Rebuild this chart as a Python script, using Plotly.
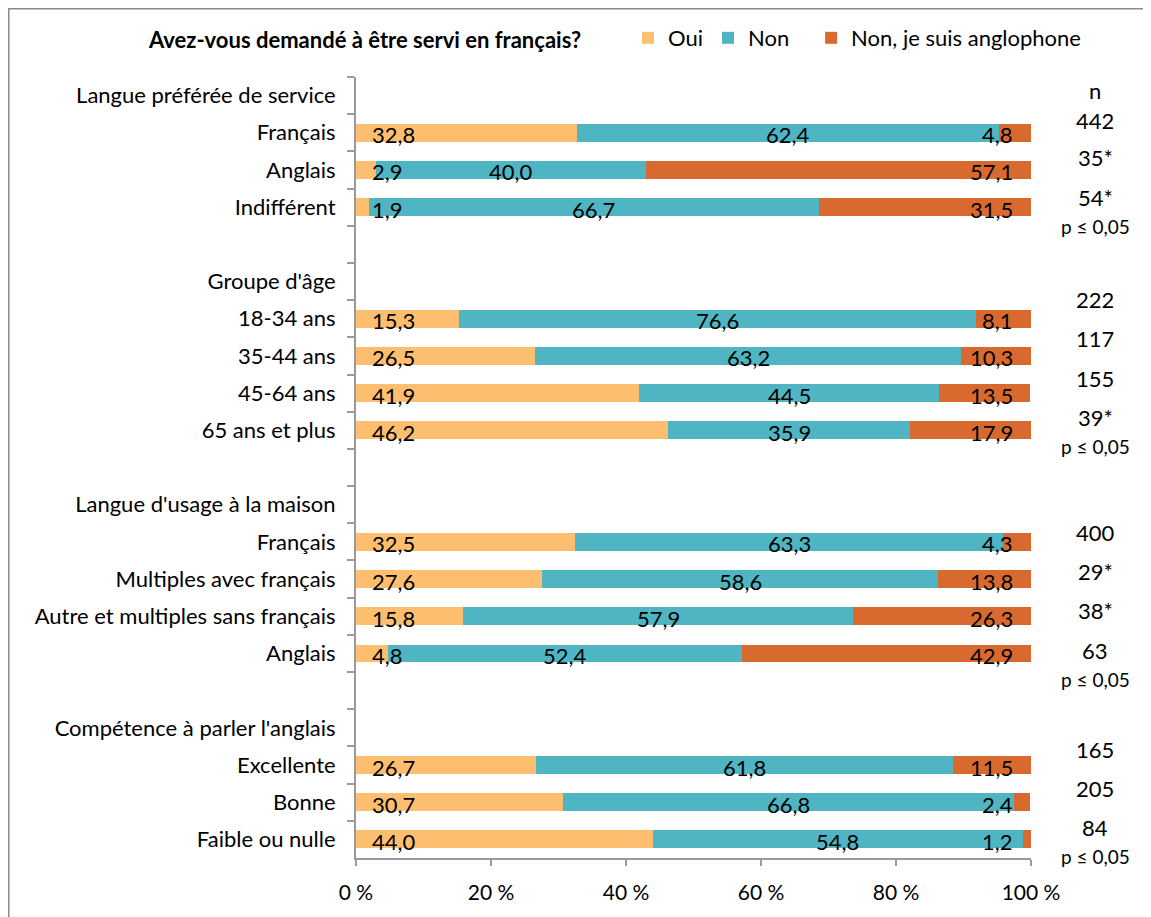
import plotly.graph_objects as go

# ---------------- data ----------------
rows = ["Langue préférée de service", "Français", "Anglais", "Indifférent", "",
        "Groupe d'âge", "18-34 ans", "35-44 ans", "45-64 ans", "65 ans et plus", "",
        "Langue d'usage à la maison", "Français", "Multiples avec français",
        "Autre et multiples sans français", "Anglais", "",
        "Compétence à parler l'anglais", "Excellente", "Bonne", "Faible ou nulle"]
oui = [None, 32.8, 2.9, 1.9, None,
       None, 15.3, 26.5, 41.9, 46.2, None,
       None, 32.5, 27.6, 15.8, 4.8, None,
       None, 26.7, 30.7, 44.0]
non = [None, 62.4, 40.0, 66.7, None,
       None, 76.6, 63.2, 44.5, 35.9, None,
       None, 63.3, 58.6, 57.9, 52.4, None,
       None, 61.8, 66.8, 54.8]
anglo = [None, 4.8, 57.1, 31.5, None,
         None, 8.1, 10.3, 13.5, 17.9, None,
         None, 4.3, 13.8, 26.3, 42.9, None,
         None, 11.5, 2.4, 1.2]
n_labels = ["n", "442", "35*", "54*", "",
            "", "222", "117", "155", "39*", "",
            "", "400", "29*", "38*", "63", "",
            "", "165", "205", "84"]
p_rows = [3, 9, 15, 20]
p_text = "p ≤ 0,05"
series_names = ["Oui", "Non", "Non, je suis anglophone"]
colors = ["#FDBF6F", "#4FB5C2", "#D96A2F"]
title_text = "Avez-vous demandé à être servi en français?"
xticks = [0, 20, 40, 60, 80, 100]

# ---------------- style / layout tweaks ----------------
# vertical pixel offsets of the n column text lines relative to their row
n_yshift = {0: 5, 1: 12, 2: 12, 3: 10, 6: 19, 7: 17, 8: 15, 9: 13,
            12: 9, 13: 8, 14: 6, 15: 3, 18: 16, 19: 14, 20: 12}
p_yshift = {3: -19, 9: -16, 15: -26, 20: -17}
legend_pad = {"Non": "\u00a0" * 3}

# unique category ids (zero-width spaces keep duplicates distinct)
cats = []
seen = {}
for r in rows:
    k = seen.get(r, 0)
    seen[r] = k + 1
    cats.append(r + "\u200b" * (k if r else k + 1))

FONT = "Lato"
fs = 22

# figure geometry (page body adds an 8px offset)
W, H = 1143, 909
L, R, T, B = 348, 120, 69, 59
PW, PH = W - L - R, H - T - B


def px_x(fx):
    return (fx - L) / PW


def px_y(fy):
    return (H - B - fy) / PH


def fmt(v):
    return f"{v:.1f}".replace(".", ",")


fig = go.Figure()
for name, vals, col in zip(series_names, [oui, non, anglo], colors):
    fig.add_trace(go.Bar(
        y=cats, x=vals, name=name + legend_pad.get(name, ""), orientation="h",
        marker=dict(color=col, line=dict(width=0)),
        hoverinfo="skip",
    ))

annotations = []
for i, c in enumerate(cats):
    if oui[i] is None:
        continue
    annotations.append(dict(x=0, y=c, xref="x", yref="y", text=fmt(oui[i]),
                            showarrow=False, xanchor="left", xshift=14, yshift=-2,
                            font=dict(size=fs, color="black", family=FONT)))
    annotations.append(dict(x=oui[i] + non[i] / 2, y=c, xref="x", yref="y",
                            text=fmt(non[i]), showarrow=False, xanchor="center", yshift=-2,
                            font=dict(size=fs, color="black", family=FONT)))
    annotations.append(dict(x=100, y=c, xref="x", yref="y", text=fmt(anglo[i]),
                            showarrow=False, xanchor="right", xshift=-16, yshift=-2,
                            font=dict(size=fs, color="black", family=FONT)))

for i, c in enumerate(cats):
    if n_labels[i]:
        annotations.append(dict(x=px_x(1087), y=c, xref="paper", yref="y", text=n_labels[i],
                                showarrow=False, xanchor="center",
                                yshift=n_yshift.get(i, 12),
                                font=dict(size=fs, color="black", family=FONT)))
for i in p_rows:
    annotations.append(dict(x=px_x(1087), y=cats[i], xref="paper", yref="y", text=p_text,
                            showarrow=False, xanchor="center", yshift=p_yshift.get(i, -18),
                            font=dict(size=19, color="black", family=FONT)))

annotations.append(dict(x=px_x(138), y=px_y(32), xref="paper", yref="paper",
                        text=f"<b>{title_text}</b>",
                        showarrow=False, xanchor="left", yanchor="middle",
                        font=dict(size=22, color="black", family=FONT)))

fig.update_layout(
    barmode="stack",
    bargap=0.52,
    width=W, height=H,
    margin=dict(l=L, r=R, t=T, b=B, autoexpand=False),
    paper_bgcolor="white", plot_bgcolor="white",
    font=dict(family=FONT, size=fs, color="black"),
    annotations=annotations,
    showlegend=True,
    legend=dict(orientation="h", x=px_x(620), y=px_y(30), xanchor="left", yanchor="middle",
                font=dict(size=22, family=FONT), itemwidth=30, traceorder="normal",
                bgcolor="rgba(0,0,0,0)"),
    xaxis=dict(range=[0, 100], tickvals=xticks, ticktext=[f"{t} %" for t in xticks],
               showgrid=False, zeroline=False, showline=True, linecolor="#9a9a9a",
               linewidth=2, ticks="outside", ticklen=6, tickcolor="#9a9a9a", tickwidth=2,
               ticklabelstandoff=9, automargin=False,
               tickfont=dict(size=21, family=FONT), fixedrange=True),
    yaxis=dict(categoryorder="array", categoryarray=cats,
               range=[len(cats) - 0.5, -0.5], autorange=False,
               showgrid=False, zeroline=False, showline=True, linecolor="#9a9a9a",
               linewidth=2, ticks="outside", ticklen=7, tickcolor="#9a9a9a", tickwidth=2,
               tickson="boundaries", ticklabelstandoff=14, automargin=False,
               tickfont=dict(size=fs, family=FONT), fixedrange=True),
    shapes=[dict(type="rect", xref="paper", yref="paper",
                 x0=px_x(0.5), x1=px_x(1140), y0=px_y(930), y1=px_y(0.5),
                 line=dict(color="#8c8c8c", width=2), fillcolor="rgba(0,0,0,0)")],
)

fig.write_html("out.html", config={"displayModeBar": False})
